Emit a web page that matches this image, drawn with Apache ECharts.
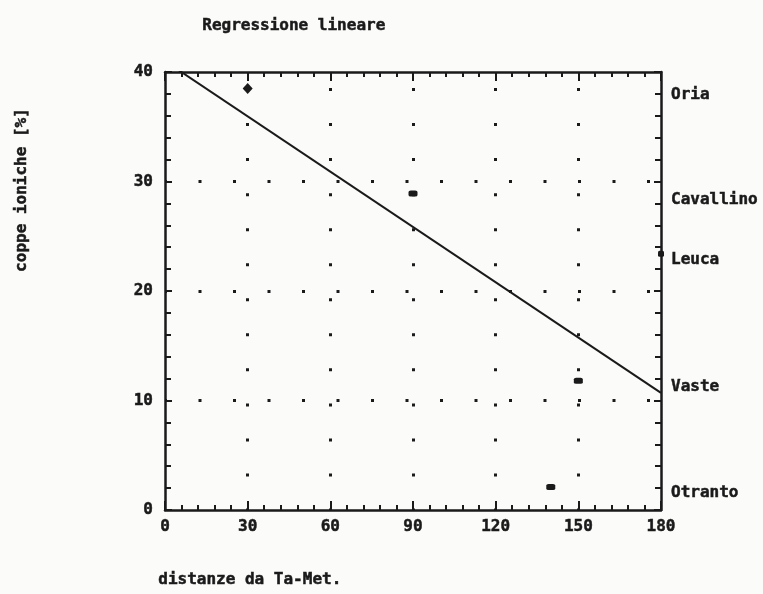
<!DOCTYPE html>
<html>
<head>
<meta charset="utf-8">
<script src="https://cdn.jsdelivr.net/npm/echarts@6/dist/echarts.min.js"></script>
<style>
html,body{margin:0;padding:0;background:#fbfbfa;}
#chart{width:763px;height:594px;}
</style>
</head>
<body>
<div id="chart"></div>
<script>
// ---- data ----
const sites = ['Oria', 'Cavallino', 'Leuca', 'Vaste', 'Otranto'];
const distanza = [30, 90, 180, 150, 140];      // distanze da Ta-Met.
const coppe = [38.5, 28.9, 23.4, 11.8, 2.1];    // coppe ioniche [%]
const regX = [0, 180];                          // regression line ends (x)
const regY = [41.0, 10.7];                      // regression line ends (y)
const xMin = 0, xMax = 180, xStep = 30;
const yMin = 0, yMax = 40, yStep = 10;

const titleText = 'Regressione lineare';
const xName = 'distanze da Ta-Met.';
const yName = 'coppe ioniche [%]';

const FONT = 'DejaVu Sans Mono';
const INK = '#1a1a1a';

const chart = echarts.init(document.getElementById('chart'), null, {renderer: 'canvas'});

const pointData = distanza.map((d, i) => [d, coppe[i]]);
const labelData = sites.map((s, i) => ({name: s, value: [xMax, coppe[i]]}));
const regData = regX.map((x, i) => [x, regY[i]]);

const txt = {color: INK, fontFamily: FONT, fontWeight: 'bold', fontSize: 16,
  textBorderColor: INK, textBorderWidth: 0.5, opacity: 1};

function xAxisCfg(pos, showLabels) {
  return {
    type: 'value', position: pos, min: xMin, max: xMax, interval: xStep,
    axisLine: {show: true, onZero: false, lineStyle: {color: INK, width: 2.5}},
    axisTick: {show: true, inside: true, length: 9, lineStyle: {color: INK, width: 2}},
    minorTick: {show: true, splitNumber: 5, length: 5, lineStyle: {color: INK, width: 2}},
    axisLabel: Object.assign({show: showLabels, margin: 9}, txt),
    splitLine: {show: showLabels, showMinLine: false, showMaxLine: false,
      lineStyle: {color: INK, width: 3, type: [3, 32.04], dashOffset: 19, cap: 'butt'}},
    minorSplitLine: {show: false}
  };
}
function yAxisCfg(pos, showLabels) {
  return {
    type: 'value', position: pos, min: yMin, max: yMax, interval: yStep,
    axisLine: {show: true, onZero: false, lineStyle: {color: INK, width: 2.5}},
    axisTick: {show: true, inside: true, length: 7, lineStyle: {color: INK, width: 2}},
    minorTick: {show: true, splitNumber: 5, length: 6, lineStyle: {color: INK, width: 2}},
    axisLabel: Object.assign({show: showLabels, margin: 12}, txt),
    splitLine: {show: showLabels, showMinLine: false, showMaxLine: false,
      lineStyle: {color: INK, width: 3, type: [3, 31.5], dashOffset: 1, cap: 'butt'}},
    minorSplitLine: {show: false}
  };
}

const gfont = 'bold 16px "' + FONT + '"';
const option = {
  backgroundColor: '#fbfbfa',
  animation: false,
  grid: {left: 165, right: 102, top: 72, bottom: 84},
  xAxis: [xAxisCfg('bottom', true), xAxisCfg('top', false)],
  yAxis: [yAxisCfg('left', true), yAxisCfg('right', false)],
  graphic: [
    {type: 'text', left: 202, top: 18,
      style: {text: titleText, fill: INK, font: gfont, stroke: INK, lineWidth: 0.5}},
    {type: 'text', left: 158, top: 572,
      style: {text: xName, fill: INK, font: gfont, stroke: INK, lineWidth: 0.5}},
    {type: 'text', x: 22, y: 190, rotation: Math.PI / 2,
      style: {text: yName, fill: INK, font: gfont, stroke: INK, lineWidth: 0.5,
        align: 'center', verticalAlign: 'middle'}}
  ],
  series: [
    {
      type: 'line', data: regData, xAxisIndex: 0, yAxisIndex: 0,
      showSymbol: false, clip: true,
      lineStyle: {color: INK, width: 2}, z: 3
    },
    {
      type: 'scatter', data: pointData, xAxisIndex: 0, yAxisIndex: 0,
      symbol: (v, p) => p.dataIndex === 0 ? 'diamond' : 'roundRect',
      symbolSize: (v, p) => p.dataIndex === 0 ? [10, 11] : (p.dataIndex === 2 ? [6, 6] : [9, 6]),
      itemStyle: {color: INK, opacity: 1}, z: 4
    },
    {
      type: 'scatter', data: labelData, xAxisIndex: 0, yAxisIndex: 0,
      symbolSize: 0, silent: true, itemStyle: {opacity: 1},
      label: Object.assign({show: true, position: 'right', distance: 10, offset: [0, 6],
        formatter: '{b}'}, txt)
    }
  ]
};
chart.setOption(option);
</script>
</body>
</html>
